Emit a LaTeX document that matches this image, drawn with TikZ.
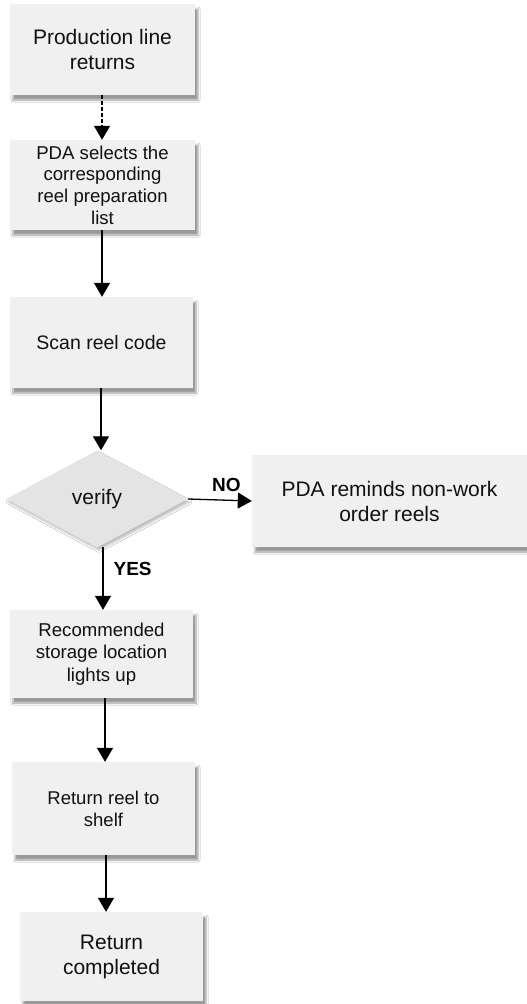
\documentclass[tikz,border=0pt]{standalone}
\usepackage{fontspec}
\setmainfont{Liberation Sans}
\usetikzlibrary{arrows.meta,shapes.geometric,shadows.blur}
\definecolor{boxfill}{HTML}{F0F0F0}
\definecolor{diafill}{HTML}{E4E4E4}
\definecolor{txt}{HTML}{111111}
\tikzset{
  procbox/.style={rectangle, fill=boxfill, draw=none, align=center, text=txt, inner sep=0pt,
    blur shadow={shadow xshift=3pt, shadow yshift=-5pt, shadow blur radius=2pt, shadow blur extra rounding=0pt, shadow opacity=40}},
  decision/.style={diamond, fill=diafill, draw=none, align=center, text=txt, inner sep=0pt, aspect=1.88,
    blur shadow={shadow xshift=2pt, shadow yshift=-3pt, shadow blur radius=2pt, shadow opacity=25}},
  flow/.style={line width=1.3pt, draw=black, -{Triangle[width=16pt,length=14pt]}},
  lbl/.style={font=\fontsize{19}{22}\selectfont\bfseries, text=black, inner sep=0pt}
}
\begin{document}
\begin{tikzpicture}[x=1pt,y=-1pt]
\useasboundingbox (0,0) rectangle (527,1004);
\fill[white] (0,0) rectangle (527,1004);
\node[procbox, minimum width=185pt, minimum height=91pt, font=\fontsize{21}{25}\selectfont] (b1) at (102.5,49.5) {Production line\\returns};
\node[procbox, minimum width=185pt, minimum height=90pt, font=\fontsize{18.6}{21.7}\selectfont] (b2) at (102.5,185) {PDA selects the\\corresponding\\reel preparation\\list};
\node[procbox, minimum width=183pt, minimum height=91pt, font=\fontsize{19.5}{23}\selectfont] (b3) at (101.5,342.5) {Scan reel code};
\node[decision, minimum width=182pt, minimum height=97pt, font=\fontsize{21}{25}\selectfont] (d) at (97,499) {verify};
\node[procbox, minimum width=275pt, minimum height=92pt, font=\fontsize{21}{25}\selectfont] (bno) at (389.5,501) {PDA reminds non-work\\order reels};
\node[procbox, minimum width=183pt, minimum height=88pt, font=\fontsize{18.6}{22.5}\selectfont] (b5) at (101.5,654) {Recommended\\storage location\\lights up};
\node[procbox, minimum width=183pt, minimum height=93pt, font=\fontsize{18.5}{22}\selectfont] (b6) at (103.5,808.5) {Return reel to\\shelf};
\node[procbox, minimum width=183pt, minimum height=89pt, font=\fontsize{21}{25}\selectfont] (b7) at (111.5,956.5) {Return\\completed};

\coordinate (a1) at (102,95);
\draw[flow, dash pattern=on 4pt off 2pt] (a1) -- (a1 |- b2.north);
\coordinate (a2) at (102,230);
\draw[flow] (a2) -- (a2 |- b3.north);
\coordinate (a3) at (101,388);
\draw[flow] (a3) -- (a3 |- d.north);
\draw[flow] (d.east) -- (bno.west) node[lbl, pos=0.6, above=8pt] (no) {NO};
\coordinate (a4) at (103,547);
\draw[flow] (a4) -- (a4 |- b5.north) node[lbl, pos=0.35, right=10pt] (yes) {YES};
\coordinate (a5) at (105,698);
\draw[flow] (a5) -- (a5 |- b6.north);
\coordinate (a6) at (106,855);
\draw[flow] (a6) -- (a6 |- b7.north);
\end{tikzpicture}
\end{document}
